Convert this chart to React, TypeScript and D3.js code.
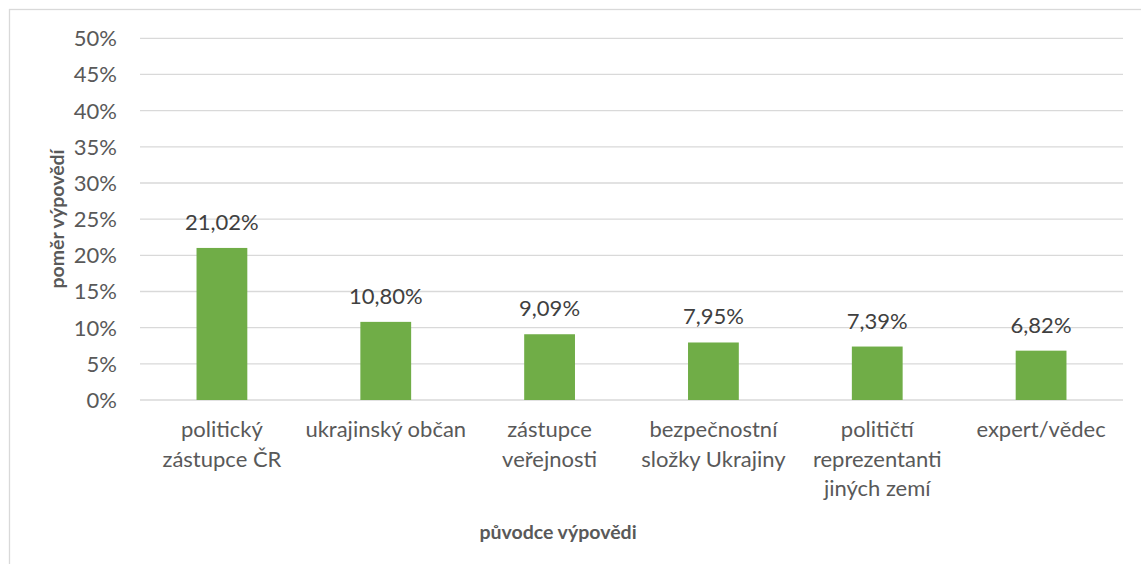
import React from "react";
import * as d3 from "d3";

const categories: string[] = [
  "politický\nzástupce ČR",
  "ukrajinský občan",
  "zástupce\nveřejnosti",
  "bezpečnostní\nsložky Ukrajiny",
  "političtí\nreprezentanti\njiných zemí",
  "expert/vědec",
];
const values: number[] = [21.02, 10.8, 9.09, 7.95, 7.39, 6.82];
const yTicks: number[] = [0, 5, 10, 15, 20, 25, 30, 35, 40, 45, 50];
const yTitle = "poměr výpovědí";
const xTitle = "původce výpovědi";

const W = 1141;
const H = 564;
const plotLeft = 140;
const plotRight = 1123;
const plotTop = 38.3;
const plotBottom = 400;
const FONT = "Lato, 'Open Sans', sans-serif";

export default function App() {
  const x = d3
    .scaleBand<string>()
    .domain(categories)
    .range([plotLeft, plotRight])
    .paddingInner(0.69)
    .paddingOuter(0.345);
  const y = d3.scaleLinear().domain([0, 50]).range([plotBottom, plotTop]);
  const fmt = (v: number) => v.toFixed(2).replace(".", ",") + "%";

  return (
    <svg
      width={W}
      height={H}
      style={{ position: "absolute", left: 0, top: 0, background: "#fff" }}
      fontFamily={FONT}
    >
      <rect x={9.5} y={9.5} width={1200} height={600} fill="#fff" stroke="#d9d9d9" strokeWidth={1.3} />
      {yTicks.map((t) => (
        <g key={t}>
          <line x1={plotLeft} x2={plotRight} y1={y(t)} y2={y(t)} stroke="#d9d9d9" strokeWidth={1.3} />
          <text x={117} y={y(t)} dy="0.36em" textAnchor="end" fontSize={22} fill="#595959">
            {t + "%"}
          </text>
        </g>
      ))}
      {categories.map((c, i) => {
        const bx = x(c)!;
        const cx = bx + x.bandwidth() / 2;
        return (
          <g key={c}>
            <rect x={bx} y={y(values[i])} width={x.bandwidth()} height={plotBottom - y(values[i])} fill="#70ad47" />
            <text x={cx} y={y(values[i]) - 18} textAnchor="middle" fontSize={22} fill="#404040">
              {fmt(values[i])}
            </text>
            {c.split("\n").map((line, j) => (
              <text key={j} x={cx} y={437 + j * 29.5} textAnchor="middle" fontSize={22} fill="#595959">
                {line}
              </text>
            ))}
          </g>
        );
      })}
      <text
        transform={`translate(64, ${(148 + 290) / 2}) rotate(-90)`}
        textAnchor="middle"
        fontSize={19.5}
        fontWeight="bold"
        fill="#595959"
      >
        {yTitle}
      </text>
      <text x={558} y={539} textAnchor="middle" fontSize={19.5} fontWeight="bold" fill="#595959">
        {xTitle}
      </text>
    </svg>
  );
}
